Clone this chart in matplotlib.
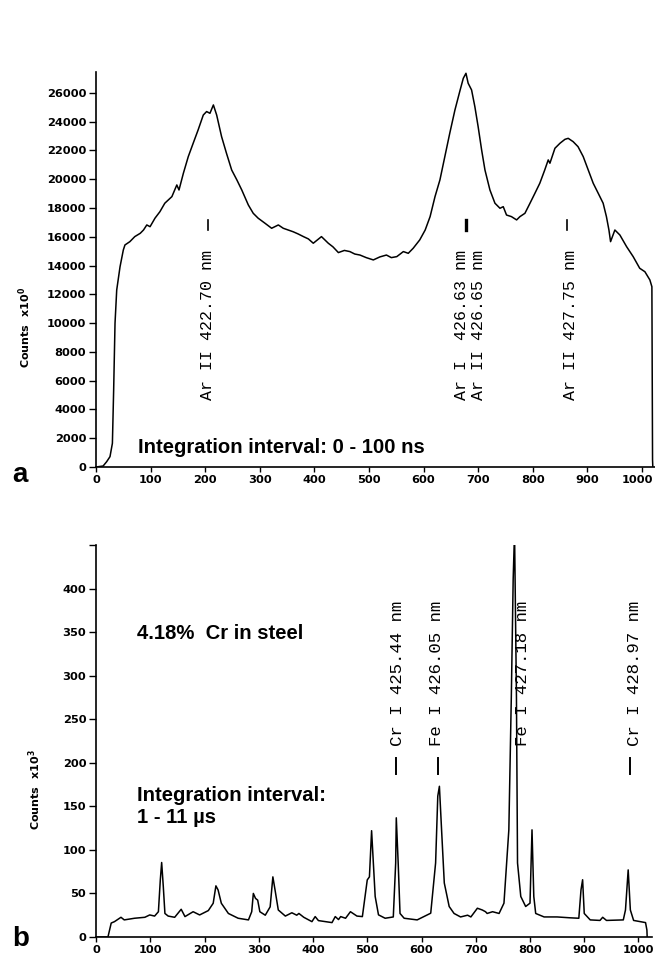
import matplotlib
matplotlib.use("Agg")
import matplotlib.pyplot as plt
import matplotlib.transforms as mtransforms
from matplotlib.ticker import MultipleLocator, FixedLocator

# panel a: spectrum 0 - 100 ns (channel, counts)
chan_a = [0, 13, 19.5, 25.6, 30, 32.3, 34.8, 37.9, 44, 50, 53, 62, 71, 81, 87, 93, 99,
          108, 117, 126, 139, 148, 152, 160, 169, 178, 187, 196.5, 202.6, 208.7, 215,
          221, 230, 239, 248.5, 258, 267, 279, 288, 297, 309.5, 321.7, 334, 343, 352,
          361, 370, 380, 389, 398, 413, 425.5, 434, 444, 455, 465, 474, 483.5, 495,
          508, 520, 532, 541, 551, 563, 572, 581, 593, 603, 612, 621, 630, 639, 648,
          657.5, 666.7, 672.8, 677.7, 681.7, 688, 694, 700, 706.4, 712.5, 721.6,
          730.8, 740, 746, 752, 761, 770.5, 776.6, 785.7, 795, 804, 813, 822, 828.4,
          831.5, 840.7, 850, 859, 865, 874, 883, 892.5, 901.7, 910.8, 920, 929, 935,
          939.6, 942.6, 950.5, 959.7, 972, 984, 996, 1005.5, 1014.6, 1018.3, 1019.5, 1020]
counts_a = [0, 70, 370, 720, 1650, 5350, 9990, 12300, 13920, 15080, 15430, 15660, 16010,
            16240, 16470, 16820, 16700, 17290, 17740, 18330, 18790, 19600, 19250, 20410,
            21570, 22500, 23420, 24460, 24700, 24580, 25160, 24460, 22960, 21800, 20640,
            19950, 19250, 18210, 17630, 17290, 16940, 16590, 16820, 16590, 16470, 16350,
            16200, 16010, 15850, 15550, 16010, 15550, 15300, 14900, 15050, 14970, 14800,
            14730, 14550, 14390, 14600, 14730, 14550, 14620, 14970, 14850, 15200, 15780,
            16470, 17400, 18790, 19950, 21570, 23190, 24810, 26150, 27010, 27360, 26670,
            26200, 25040, 23650, 22030, 20640, 19250, 18330, 17980, 18090, 17510, 17400,
            17170, 17400, 17630, 18330, 19020, 19720, 20640, 21340, 21110, 22150, 22500,
            22770, 22840, 22610, 22260, 21570, 20640, 19720, 19020, 18330, 17400, 16470,
            15660, 16470, 16120, 15310, 14620, 13810, 13570, 13000, 12530, 490, 0]

# panel b: spectrum 1 - 11 us (channel, counts x10^3)
chan_b = [0, 22, 25, 28, 34, 46, 52, 71, 90, 99, 108, 115, 118.5, 121, 124, 127, 133,
          145, 157, 164, 179, 191, 207, 216, 221, 225, 231, 244, 262, 281, 287, 290,
          294, 298, 302, 312, 321, 326, 330, 336, 349, 361, 370, 374, 383, 398, 404,
          410, 435, 441, 447, 451, 460, 469, 481, 491, 500, 504, 508, 514.6, 520.7,
          533, 548, 552.4, 553.5, 557, 560.4, 568, 592, 617, 626, 630, 633, 637, 642,
          651, 660, 672, 685, 691, 703, 712, 718, 721, 731, 743, 752, 761, 765.6, 769,
          771.5, 775, 777, 783, 792, 800, 803.7, 807, 810.5, 826, 850, 874, 890, 894,
          897, 900, 911, 929, 934, 941, 972, 976, 981, 985, 991, 1013, 1015.5, 1016]
counts_b = [0, 0, 8, 16, 17.6, 22.6, 19.6, 21.5, 22.6, 25.3, 24, 29, 65.5, 85.5, 58, 27,
            24, 22.6, 31.8, 23.4, 29, 25.3, 30.3, 38.7, 58.7, 54, 38.7, 27, 21.5, 19.6,
            29, 50, 44.3, 42.3, 29, 25, 34.6, 69, 54, 31, 24, 27.8, 25, 27, 22.6, 17.6,
            23.4, 18.8, 16.5, 23.4, 20, 23.4, 21.5, 29, 24, 23.4, 65.5, 69, 122, 46.5,
            25.4, 21.5, 23, 85, 136.8, 85, 27, 21.5, 19.6, 27.3, 85, 161.7, 173, 123, 62,
            35, 27, 23, 25, 23, 33, 31, 29, 27, 29, 27, 38.8, 123, 277, 411, 465, 277,
            85, 46.5, 35, 38.8, 123, 46.5, 27, 23, 23, 22, 21.5, 54, 65.7, 27, 19.6, 19,
            22.6, 19, 19.6, 31, 77, 31, 19, 16.5, 8, 0]

# line labels
labels_a = ["Ar II 422.70 nm", "Ar I  426.63 nm", "Ar II 426.65 nm", "Ar II 427.75 nm"]
label_x_a = [204, 670, 701.5, 869]
marker_x_a = [205, 677.7, 863]

labels_b = ["Cr I 425.44 nm", "Fe I 426.05 nm", "Fe I 427.18 nm", "Cr I 428.97 nm"]
label_x_b = [556, 628, 786.6, 991.9]
marker_x_b = [552.5, 631, 984.5]

xticks = list(range(0, 1001, 100))
tick_font = {"family": "DejaVu Sans", "weight": "bold", "size": 8.2}
mono = "Liberation Mono"
sans = "Liberation Sans"

fig = plt.figure(figsize=(6.55, 9.56), dpi=100)

ax1 = fig.add_axes([0.1466, 0.5115, 0.8534, 0.4132])
ax2 = fig.add_axes([0.1466, 0.0199, 0.8489, 0.4100])

for ax in (ax1, ax2):
    ax.spines["top"].set_visible(False)
    ax.spines["right"].set_visible(False)
    ax.spines["left"].set_linewidth(1.2)
    ax.spines["bottom"].set_linewidth(1.2)
    ax.tick_params(axis="y", direction="out", length=5, width=1, pad=2)
    ax.tick_params(axis="x", direction="out", length=3.5, width=1, pad=2)

# ---- panel a
ax1.plot(chan_a, counts_a, color="black", lw=1.1)
ax1.set_xlim(0, 1024)
ax1.set_ylim(0, 27450)
ax1.set_xticks(xticks)
ax1.set_xticklabels([str(v) for v in xticks], **tick_font)
ax1.set_yticks(range(0, 26001, 2000))
ax1.set_yticklabels([str(v) for v in range(0, 26001, 2000)], **tick_font)
ax1.set_ylabel(r"Counts  x10$^{\mathbf{0}}$", fontsize=8, fontweight="bold")
ax1.yaxis.set_label_coords(-0.113, 0.354)

# keep the last label inside the figure
shift = mtransforms.ScaledTranslation(-4 / 100, 0, fig.dpi_scale_trans)
last = ax1.get_xticklabels()[-1]
last.set_transform(last.get_transform() + shift)

for lx, txt in zip(label_x_a, labels_a):
    ax1.text(lx, 15100, txt, rotation=90, ha="center", va="top",
             family=mono, fontsize=12)
for i, mx in enumerate(marker_x_a):
    ax1.plot([mx, mx], [16500, 17150], color="black", lw=2.4 if i == 1 else 1.2)

ax1.text(77, 973, "Integration interval: 0 - 100 ns", family=sans,
         fontweight="bold", fontsize=14.6, va="baseline")

# ---- panel b
ax2.plot(chan_b, counts_b, color="black", lw=1.1)
ax2.set_xlim(0, 1025)
ax2.set_ylim(0, 450)
ax2.set_xticks(xticks)
ax2.set_xticklabels([str(v) for v in xticks], **tick_font)
ax2.yaxis.set_major_locator(FixedLocator(range(0, 451, 50)))
ax2.set_yticklabels([str(v) for v in range(0, 401, 50)] + [""], **tick_font)
ax2.set_ylabel(r"Counts  x10$^{\mathbf{3}}$", fontsize=8, fontweight="bold")
ax2.yaxis.set_label_coords(-0.095, 0.375)

for lx, txt in zip(label_x_b, labels_b):
    ax2.text(lx, 386, txt, rotation=90, ha="center", va="top",
             family=mono, fontsize=12.5)
for mx in marker_x_b:
    ax2.plot([mx, mx], [187, 206], color="black", lw=1.4)

ax2.text(75.6, 342, "4.18%  Cr in steel", family=sans, fontweight="bold",
         fontsize=14.6, va="baseline")
ax2.text(75.6, 156, "Integration interval:", family=sans, fontweight="bold",
         fontsize=14.6, va="baseline")
ax2.text(75.6, 131, "1 - 11 \u00b5s", family=sans, fontweight="bold",
         fontsize=14.6, va="baseline")

# panel letters
fig.text(0.018, 0.4958, "a", family=sans, fontweight="bold", fontsize=20, va="baseline")
fig.text(0.018, 0.0105, "b", family=sans, fontweight="bold", fontsize=20, va="baseline")

fig.savefig("out.png", dpi=100)
